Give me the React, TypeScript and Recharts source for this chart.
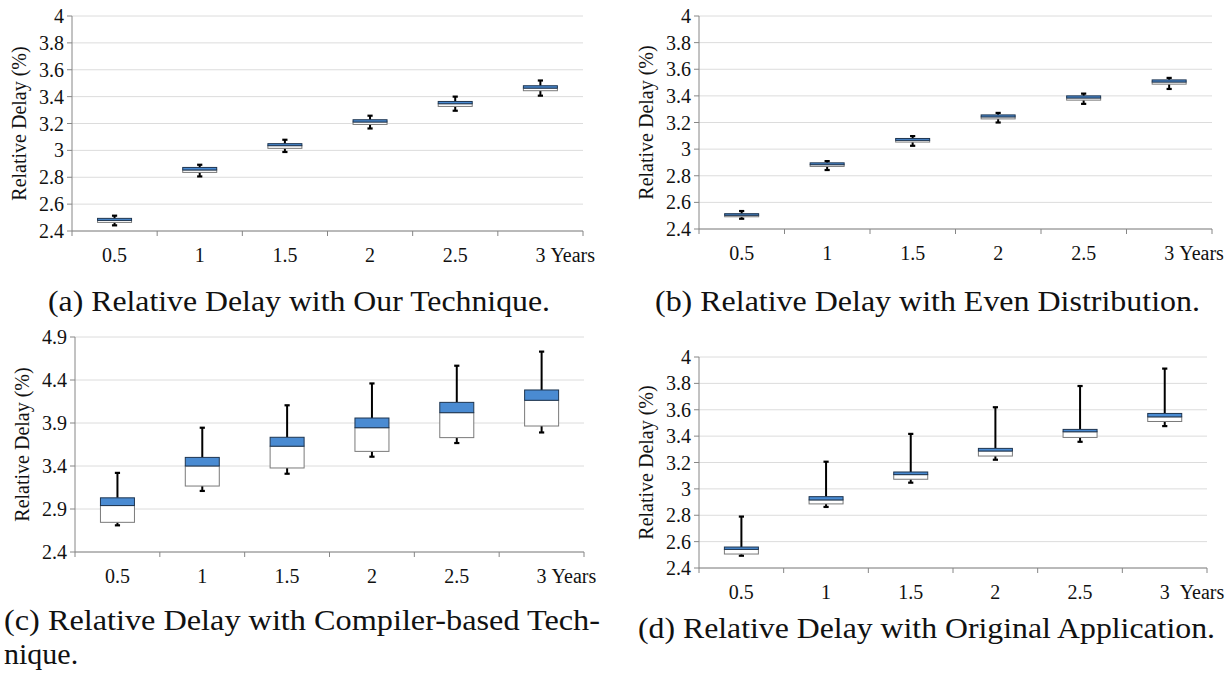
import React from 'react';
import { ComposedChart, Bar, XAxis, YAxis, CartesianGrid, Label } from 'recharts';

// Service periods on the horizontal axis
const categories = ['0.5', '1', '1.5', '2', '2.5', '3'];

// (a) Our technique
const ourMin = [2.442, 2.806, 2.988, 3.163, 3.295, 3.407];
const ourQ1 = [2.464, 2.836, 3.015, 3.193, 3.327, 3.444];
const ourMed = [2.479, 2.854, 3.035, 3.211, 3.347, 3.463];
const ourQ3 = [2.494, 2.873, 3.05, 3.228, 3.364, 3.481];
const ourMax = [2.514, 2.893, 3.079, 3.258, 3.4, 3.52];

// (b) Even distribution
const evenMin = [2.477, 2.843, 3.025, 3.2, 3.34, 3.452];
const evenQ1 = [2.492, 2.87, 3.053, 3.227, 3.368, 3.488];
const evenMed = [2.503, 2.883, 3.066, 3.242, 3.384, 3.504];
const evenQ3 = [2.515, 2.897, 3.08, 3.257, 3.4, 3.52];
const evenMax = [2.535, 2.91, 3.098, 3.272, 3.417, 3.535];

// (c) Compiler-based technique
const compMin = [2.71, 3.11, 3.31, 3.508, 3.667, 3.79];
const compQ1 = [2.745, 3.167, 3.377, 3.57, 3.73, 3.865];
const compMed = [2.94, 3.4, 3.63, 3.845, 4.02, 4.164];
const compQ3 = [3.03, 3.5, 3.734, 3.958, 4.14, 4.284];
const compMax = [3.32, 3.845, 4.106, 4.36, 4.566, 4.73];

// (d) Original application
const origMin = [2.493, 2.863, 3.047, 3.221, 3.357, 3.476];
const origQ1 = [2.506, 2.886, 3.073, 3.249, 3.39, 3.511];
const origMed = [2.541, 2.916, 3.108, 3.287, 3.433, 3.546];
const origQ3 = [2.559, 2.941, 3.128, 3.307, 3.451, 3.572];
const origMax = [2.79, 3.206, 3.417, 3.619, 3.78, 3.912];

// Y axis ticks
const ticksFine = [2.4, 2.6, 2.8, 3, 3.2, 3.4, 3.6, 3.8, 4];
const ticksWide = [2.4, 2.9, 3.4, 3.9, 4.4, 4.9];

const yAxisTitle = 'Relative Delay (%)';
const lastTickSuffix = 'Years';

const captionA = '(a) Relative Delay with Our Technique.';
const captionB = '(b) Relative Delay with Even Distribution.';
const captionC1 = '(c) Relative Delay with Compiler-based Tech-';
const captionC2 = 'nique.';
const captionD = '(d) Relative Delay with Original Application.';

const SERIF = 'Liberation Serif';
const AXIS_GRAY = '#868686';
const GRID_GRAY = '#dcdcdc';
const BOX_BLUE = '#4a8bd2';
const BOX_EDGE_DARK = '#1e3550';
const BOX_EDGE_GRAY = '#7a7a7a';

type Row = {
  cat: string;
  range: [number, number];
  min: number;
  q1: number;
  med: number;
  q3: number;
  max: number;
};

function buildRows(min: number[], q1: number[], med: number[], q3: number[], max: number[]): Row[] {
  return categories.map((cat, i) => ({
    cat,
    range: [min[i], max[i]],
    min: min[i],
    q1: q1[i],
    med: med[i],
    q3: q3[i],
    max: max[i],
  }));
}

// Whole box-and-whisker glyph, drawn from the min..max range bar geometry
function BoxShape(props: any) {
  const { x, y, width, height, payload } = props;
  if (!payload || width == null) return null;
  const { min, q1, med, q3, max } = payload as Row;
  const span = max - min;
  const py = (v: number) => y + ((max - v) / span) * height;
  const cx = x + width / 2;
  const cap = 2.6;
  return (
    <g>
      <line x1={cx} x2={cx} y1={py(q3)} y2={py(max)} stroke="#000" strokeWidth={2} />
      <line x1={cx} x2={cx} y1={py(q1)} y2={py(min)} stroke="#000" strokeWidth={2} />
      <line x1={cx - cap} x2={cx + cap} y1={py(max)} y2={py(max)} stroke="#000" strokeWidth={2.2} />
      <line x1={cx - cap} x2={cx + cap} y1={py(min)} y2={py(min)} stroke="#000" strokeWidth={2.2} />
      <rect
        x={x}
        y={py(med)}
        width={width}
        height={Math.max(py(q1) - py(med), 0.5)}
        fill="#ffffff"
        stroke={BOX_EDGE_GRAY}
        strokeWidth={1}
      />
      <rect
        x={x}
        y={py(q3)}
        width={width}
        height={Math.max(py(med) - py(q3), 0.5)}
        fill={BOX_BLUE}
        stroke={BOX_EDGE_DARK}
        strokeWidth={1}
      />
    </g>
  );
}

const textStyle = { fontFamily: SERIF };

function makeXTick(yearsGap: number, fallbackHalf: number) {
  return function XTick(props: any) {
    const { x, y, payload, index } = props;
    const half = payload && typeof payload.offset === 'number' && payload.offset > 0 ? payload.offset : fallbackHalf;
    const last = index === categories.length - 1;
    return (
      <g>
        <line x1={x - half} x2={x - half} y1={y} y2={y + 5} stroke={AXIS_GRAY} strokeWidth={1} />
        {last && <line x1={x + half} x2={x + half} y1={y} y2={y + 5} stroke={AXIS_GRAY} strokeWidth={1} />}
        <text x={x} y={y + 24} textAnchor="middle" dominantBaseline="central" style={textStyle} fontSize={20} fill="#111">
          {payload.value}
        </text>
        {last && (
          <text
            x={x + yearsGap}
            y={y + 24}
            textAnchor="start"
            dominantBaseline="central"
            style={textStyle}
            fontSize={20}
            fill="#111"
          >
            {lastTickSuffix}
          </text>
        )}
      </g>
    );
  };
}

type PanelProps = {
  rows: Row[];
  ticks: number[];
  left: number;
  top: number;
  width: number;
  height: number;
  plotLeft: number;
  plotRight: number;
  plotTop: number;
  plotBottom: number;
  yearsGap: number;
};

function BoxPanel(p: PanelProps) {
  const yAxisWidth = p.plotLeft - p.left;
  const marginTop = p.plotTop - p.top;
  const marginRight = p.left + p.width - p.plotRight;
  const xAxisHeight = p.top + p.height - p.plotBottom;
  const half = (p.plotRight - p.plotLeft) / categories.length / 2;
  const domain: [number, number] = [p.ticks[0], p.ticks[p.ticks.length - 1]];
  return (
    <div style={{ position: 'absolute', left: p.left, top: p.top, fontFamily: SERIF }}>
      <ComposedChart
        width={p.width}
        height={p.height}
        data={p.rows}
        margin={{ top: marginTop, right: marginRight, bottom: 0, left: 0 }}
        barCategoryGap="30%"
        style={{ fontFamily: SERIF }}
      >
        <CartesianGrid vertical={false} stroke={GRID_GRAY} strokeWidth={1} />
        <XAxis
          dataKey="cat"
          height={xAxisHeight}
          axisLine={{ stroke: AXIS_GRAY, strokeWidth: 1 }}
          tickLine={false}
          tickSize={0}
          tickMargin={0}
          interval={0}
          tick={makeXTick(p.yearsGap, half)}
        />
        <YAxis
          type="number"
          domain={domain}
          ticks={p.ticks}
          interval={0}
          width={yAxisWidth}
          axisLine={{ stroke: AXIS_GRAY, strokeWidth: 1 }}
          tickLine={{ stroke: AXIS_GRAY, strokeWidth: 1 }}
          tickSize={5}
          tickMargin={3}
          tickFormatter={(v: number) => String(Number(v.toFixed(1)))}
          tick={{ fontSize: 20, fill: '#111', style: textStyle }}
        >
          <Label
            content={(lp: any) => {
              const vb = lp.viewBox || { x: 0, y: marginTop, width: yAxisWidth, height: p.plotBottom - p.plotTop };
              const cx = vb.x + vb.width - 53;
              const cy = vb.y + vb.height / 2;
              return (
                <text
                  x={cx}
                  y={cy}
                  transform={`rotate(-90 ${cx} ${cy})`}
                  textAnchor="middle"
                  dominantBaseline="central"
                  style={textStyle}
                  fontSize={20}
                  fill="#111"
                >
                  {yAxisTitle}
                </text>
              );
            }}
          />
        </YAxis>
        <Bar dataKey="range" shape={<BoxShape />} isAnimationActive={false} />
      </ComposedChart>
    </div>
  );
}

function Caption({ x, y, w, text }: { x: number; y: number; w?: number; text: string }) {
  return (
    <text
      x={x}
      y={y}
      style={textStyle}
      fontSize={30}
      fill="#111"
      textLength={w}
      lengthAdjust={w ? 'spacingAndGlyphs' : undefined}
    >
      {text}
    </text>
  );
}

export default function App() {
  return (
    <div
      style={{
        position: 'absolute',
        left: 0,
        top: 0,
        width: 1225,
        height: 673,
        background: '#fff',
        overflow: 'hidden',
        fontFamily: SERIF,
      }}
    >
      <BoxPanel
        rows={buildRows(ourMin, ourQ1, ourMed, ourQ3, ourMax)}
        ticks={ticksFine}
        left={0}
        top={0}
        width={605}
        height={275}
        plotLeft={72}
        plotRight={583}
        plotTop={16}
        plotBottom={231}
        yearsGap={10}
      />
      <BoxPanel
        rows={buildRows(evenMin, evenQ1, evenMed, evenQ3, evenMax)}
        ticks={ticksFine}
        left={615}
        top={0}
        width={610}
        height={275}
        plotLeft={699}
        plotRight={1212}
        plotTop={16}
        plotBottom={229}
        yearsGap={10}
      />
      <BoxPanel
        rows={buildRows(compMin, compQ1, compMed, compQ3, compMax)}
        ticks={ticksWide}
        left={0}
        top={322}
        width={605}
        height={268}
        plotLeft={75}
        plotRight={584}
        plotTop={337}
        plotBottom={552}
        yearsGap={10}
      />
      <BoxPanel
        rows={buildRows(origMin, origQ1, origMed, origQ3, origMax)}
        ticks={ticksFine}
        left={615}
        top={340}
        width={610}
        height={262}
        plotLeft={699}
        plotRight={1207}
        plotTop={357}
        plotBottom={568}
        yearsGap={15}
      />
      <svg width={1225} height={673} style={{ position: 'absolute', left: 0, top: 0, pointerEvents: 'none' }}>
        <Caption x={48} y={311} w={502} text={captionA} />
        <Caption x={655} y={311} w={545} text={captionB} />
        <Caption x={4} y={630} w={596} text={captionC1} />
        <Caption x={4} y={664} text={captionC2} />
        <Caption x={638} y={638} w={577} text={captionD} />
      </svg>
    </div>
  );
}
